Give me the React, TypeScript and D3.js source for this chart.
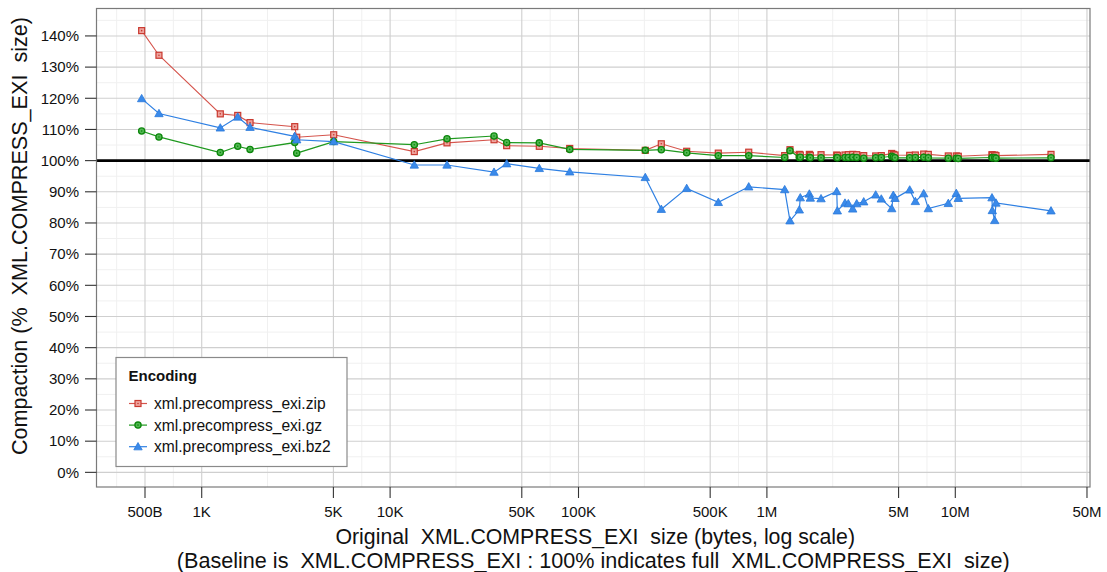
import React from "react";
import * as d3 from "d3";

const sizes = [480, 593, 1255, 1553, 1805, 3117, 3193, 5019, 13440, 20045, 35610, 41570, 61930, 89810, 226200, 275100, 375200, 552100, 800800, 1243000, 1326000, 1486000, 1504000, 1680000, 1700000, 1938000, 2348000, 2365000, 2597000, 2705000, 2854000, 2997000, 3265000, 3780000, 4048000, 4597000, 4688000, 4786000, 5728000, 6136000, 6797000, 7190000, 9180000, 10120000, 10370000, 15660000, 15720000, 16190000, 16440000, 32210000];

const zipValues = [141.7, 133.8, 115.0, 114.5, 112.2, 110.9, 107.5, 108.3, 102.9, 105.7, 106.7, 104.8, 104.6, 103.9, 103.3, 105.4, 103.0, 102.4, 102.7, 101.6, 103.5, 102.0, 101.8, 102.0, 101.7, 101.9, 101.8, 101.6, 101.8, 101.9, 102.0, 101.9, 101.6, 101.5, 101.6, 102.3, 102.0, 101.8, 101.7, 101.8, 102.1, 102.0, 101.5, 101.5, 101.4, 101.9, 101.7, 101.8, 101.6, 102.0];

const gzValues = [109.5, 107.6, 102.6, 104.6, 103.6, 105.8, 102.4, 106.1, 105.1, 107.0, 107.9, 105.8, 105.7, 103.6, 103.3, 103.5, 102.5, 101.6, 101.6, 101.0, 103.2, 101.0, 101.1, 101.1, 100.9, 100.9, 101.0, 100.9, 101.0, 101.0, 101.1, 101.0, 100.8, 100.9, 101.0, 101.4, 101.2, 100.9, 100.9, 101.0, 101.1, 100.9, 100.8, 100.8, 100.7, 101.0, 100.9, 101.0, 100.8, 100.9];

const bz2Values = [119.9, 115.1, 110.5, 114.0, 110.7, 107.8, 106.7, 106.1, 98.6, 98.6, 96.3, 99.0, 97.5, 96.4, 94.6, 84.4, 91.1, 86.6, 91.6, 90.7, 80.7, 84.2, 88.1, 89.3, 88.0, 87.8, 90.1, 83.9, 86.4, 86.2, 84.5, 86.2, 86.8, 89.0, 87.7, 84.6, 88.9, 87.9, 90.6, 86.9, 89.4, 84.6, 86.3, 89.5, 87.9, 88.1, 84.0, 80.8, 86.4, 83.9];

const xTickValues = [500, 1000, 5000, 10000, 50000, 100000, 500000, 1000000, 5000000, 10000000, 50000000];
const xTickLabels = ["500B", "1K", "5K", "10K", "50K", "100K", "500K", "1M", "5M", "10M", "50M"];
const yTickValues = [0, 10, 20, 30, 40, 50, 60, 70, 80, 90, 100, 110, 120, 130, 140];

const seriesNames = ["xml.precompress_exi.zip", "xml.precompress_exi.gz", "xml.precompress_exi.bz2"];

const W = 1107;
const H = 572;
const P = { left: 96.5, right: 1090, top: 8.5, bottom: 487 };

const FONT = "'Liberation Sans', Arial, Helvetica, sans-serif";

const x = d3.scaleLog().domain([276.4, 51880000]).range([P.left, P.right]);
const y = d3.scaleLinear().domain([-4.7, 148.8]).range([P.bottom, P.top]);

const COLORS = {
  zip: { line: "#d5544c", stroke: "#c9392f", fill: "#eea49e" },
  gz: { line: "#1f991f", stroke: "#0d870d", fill: "#52b852" },
  bz2: { line: "#2f80e3", stroke: "#2a78da", fill: "#3a8aea" },
};

function Square({ cx, cy, c }: { cx: number; cy: number; c: any }) {
  return (
    <g>
      <rect x={cx - 3} y={cy - 3} width={6} height={6} fill={c.fill} stroke={c.stroke} strokeWidth={1.2} />
      <circle cx={cx} cy={cy} r={0.8} fill={c.stroke} />
    </g>
  );
}
function Circle({ cx, cy, c }: { cx: number; cy: number; c: any }) {
  return (
    <g>
      <circle cx={cx} cy={cy} r={3.1} fill={c.fill} stroke={c.stroke} strokeWidth={1.3} />
      <circle cx={cx} cy={cy} r={0.8} fill={c.stroke} />
    </g>
  );
}
function Triangle({ cx, cy, c }: { cx: number; cy: number; c: any }) {
  const s = 4.2;
  const pts = `${cx},${cy - s} ${cx - s},${cy + s * 0.75} ${cx + s},${cy + s * 0.75}`;
  return <polygon points={pts} fill={c.fill} stroke={c.stroke} strokeWidth={0.8} />;
}

export default function App() {
  const line = d3
    .line<[number, number]>()
    .x((d) => x(d[0]))
    .y((d) => y(d[1]));

  const zipData: [number, number][] = sizes.map((s, i) => [s, zipValues[i]]);
  const gzData: [number, number][] = sizes.map((s, i) => [s, gzValues[i]]);
  const bz2Data: [number, number][] = sizes.map((s, i) => [s, bz2Values[i]]);

  const lx = xTickValues.map((v) => Math.log10(v));
  const xMinor: number[] = [];
  xMinor.push(Math.pow(10, lx[0] - (lx[1] - lx[0]) / 2));
  for (let i = 0; i < lx.length - 1; i++) xMinor.push(Math.pow(10, (lx[i] + lx[i + 1]) / 2));
  const yMinor = yTickValues.map((v) => v + 5).filter((v) => v < 148.8);

  const [x0, x1] = [P.left, P.right];
  const [y0, y1] = [P.top, P.bottom];

  return (
    <svg
      width={W}
      height={H}
      style={{ position: "absolute", left: 0, top: 0, background: "#fff" }}
      fontFamily={FONT}
    >
      <defs>
        <clipPath id="panel">
          <rect x={x0} y={y0} width={x1 - x0} height={y1 - y0} />
        </clipPath>
      </defs>
      <rect x={x0} y={y0} width={x1 - x0} height={y1 - y0} fill="#fff" />
      {xMinor.map((v, i) => (
        <line key={"xm" + i} x1={x(v)} x2={x(v)} y1={y0} y2={y1} stroke="#f0f0f0" strokeWidth={1} />
      ))}
      {yMinor.map((v, i) => (
        <line key={"ym" + i} x1={x0} x2={x1} y1={y(v)} y2={y(v)} stroke="#f0f0f0" strokeWidth={1} />
      ))}
      {xTickValues.map((v, i) => (
        <line key={"xg" + i} x1={x(v)} x2={x(v)} y1={y0} y2={y1} stroke="#cfcfcf" strokeWidth={1.1} />
      ))}
      {yTickValues.map((v, i) => (
        <line key={"yg" + i} x1={x0} x2={x1} y1={y(v)} y2={y(v)} stroke="#cfcfcf" strokeWidth={1.1} />
      ))}
      <line x1={x0} x2={x1} y1={y(100)} y2={y(100)} stroke="#000" strokeWidth={2.8} />

      <g clipPath="url(#panel)">
        <path d={line(zipData) || ""} fill="none" stroke={COLORS.zip.line} strokeWidth={1.1} />
        {zipData.map((d, i) => (
          <Square key={"z" + i} cx={x(d[0])} cy={y(d[1])} c={COLORS.zip} />
        ))}
        <path d={line(gzData) || ""} fill="none" stroke={COLORS.gz.line} strokeWidth={1.2} />
        {gzData.map((d, i) => (
          <Circle key={"g" + i} cx={x(d[0])} cy={y(d[1])} c={COLORS.gz} />
        ))}
        <path d={line(bz2Data) || ""} fill="none" stroke={COLORS.bz2.line} strokeWidth={1.2} />
        {bz2Data.map((d, i) => (
          <Triangle key={"b" + i} cx={x(d[0])} cy={y(d[1])} c={COLORS.bz2} />
        ))}
      </g>

      <rect x={x0} y={y0} width={x1 - x0} height={y1 - y0} fill="none" stroke="#7a7a7a" strokeWidth={1.2} />

      {yTickValues.map((v, i) => (
        <g key={"yt" + i}>
          <line x1={85} x2={x0} y1={y(v)} y2={y(v)} stroke="#333" strokeWidth={1.1} />
          <text x={79} y={y(v)} dy="0.35em" textAnchor="end" fontSize={15} fill="#111">
            {v + "%"}
          </text>
        </g>
      ))}
      {xTickValues.map((v, i) => (
        <g key={"xt" + i}>
          <line x1={x(v)} x2={x(v)} y1={y1} y2={498} stroke="#333" strokeWidth={1.1} />
          <text x={x(v)} y={512} dy="0.35em" textAnchor="middle" fontSize={15} fill="#111">
            {xTickLabels[i]}
          </text>
        </g>
      ))}

      <text x={(x0 + x1) / 2 + 2} y={537} dy="0.35em" textAnchor="middle" fontSize={21.3} fill="#111" style={{ whiteSpace: "pre" }}>
        {"Original  XML.COMPRESS_EXI  size (bytes, log scale)"}
      </text>
      <text x={(x0 + x1) / 2} y={560} dy="0.35em" textAnchor="middle" fontSize={21.6} fill="#111" style={{ whiteSpace: "pre" }}>
        {"(Baseline is  XML.COMPRESS_EXI : 100% indicates full  XML.COMPRESS_EXI  size)"}
      </text>
      <text transform={`translate(19,236) rotate(-90)`} dy="0.35em" textAnchor="middle" fontSize={21.6} fill="#111" style={{ whiteSpace: "pre" }}>
        {"Compaction (%  XML.COMPRESS_EXI  size)"}
      </text>

      <g>
        <rect x={116} y={357.5} width={231} height={109} fill="#fff" stroke="#8a8a8a" strokeWidth={1.2} />
        <text x={128.5} y={376} dy="0.35em" fontSize={15} fontWeight="bold" fill="#111">
          Encoding
        </text>
        {seriesNames.map((name, i) => {
          const cy = 403.5 + i * 21.6;
          const c = i === 0 ? COLORS.zip : i === 1 ? COLORS.gz : COLORS.bz2;
          return (
            <g key={"lg" + i}>
              <line x1={129} x2={147} y1={cy} y2={cy} stroke={c.line} strokeWidth={1.2} />
              {i === 0 && <Square cx={138} cy={cy} c={c} />}
              {i === 1 && <Circle cx={138} cy={cy} c={c} />}
              {i === 2 && <Triangle cx={138} cy={cy} c={c} />}
              <text x={154} y={cy} dy="0.35em" fontSize={15.6} fill="#111">
                {name}
              </text>
            </g>
          );
        })}
      </g>
    </svg>
  );
}
